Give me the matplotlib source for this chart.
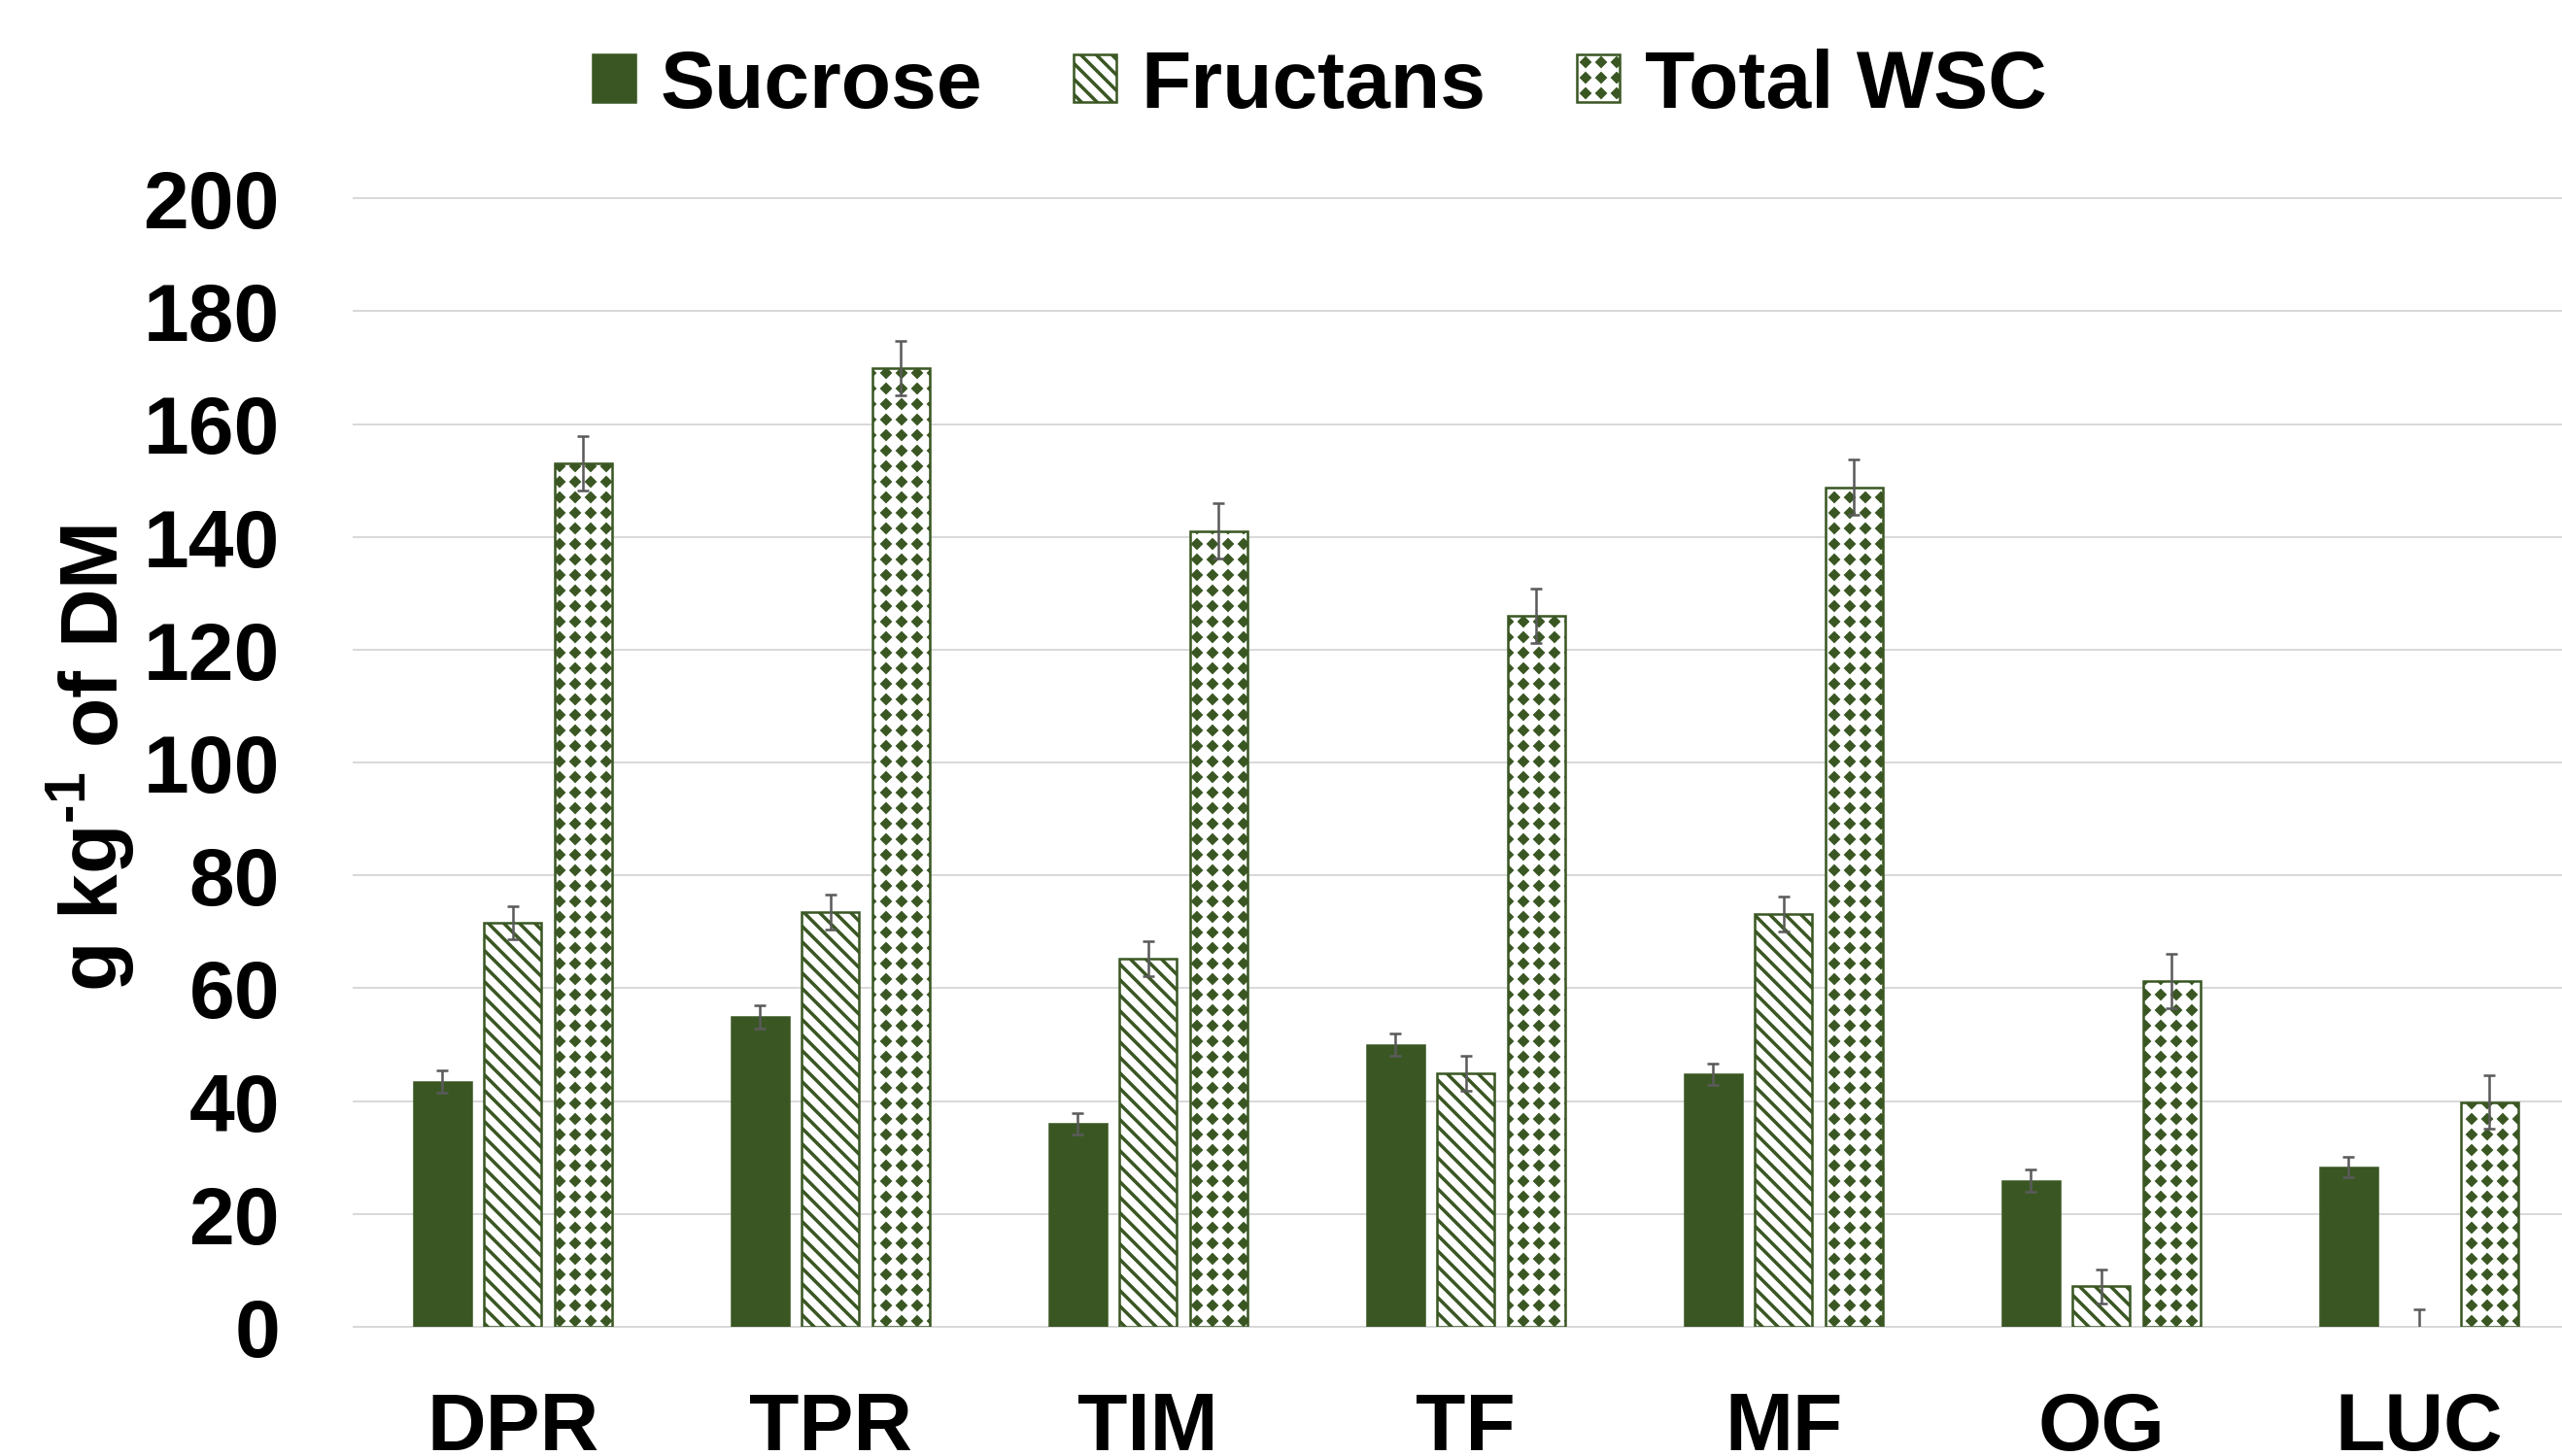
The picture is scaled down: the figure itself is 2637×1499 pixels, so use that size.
import numpy as np
import matplotlib
matplotlib.use('Agg')
import matplotlib.pyplot as plt
from matplotlib import hatch as mhatch
from matplotlib.path import Path

# ---------------- data ----------------
categories = ['DPR', 'TPR', 'TIM', 'TF', 'MF', 'OG', 'LUC']
series_names = ['Sucrose', 'Fructans', 'Total WSC']
sucrose = [43.4, 54.9, 36.0, 50.0, 44.8, 25.9, 28.3]
sucrose_err = [2.0, 2.0, 1.9, 2.0, 1.9, 2.0, 1.8]
fructans = [71.6, 73.5, 65.2, 44.9, 73.2, 7.2, 0.0]
fructans_err = [3.0, 3.1, 3.1, 3.1, 3.1, 3.0, 3.1]
total_wsc = [153.0, 169.9, 141.0, 126.0, 148.8, 61.3, 39.8]
total_err = [4.8, 4.8, 4.9, 4.8, 4.9, 4.8, 4.7]
yticks = [0, 20, 40, 60, 80, 100, 120, 140, 160, 180, 200]
ylabel = r'g kg$^{\text{-1}}$ of DM'


# ------------- custom pattern fills (Excel-like) -------------
class DiamondHatch(mhatch.HatchPatternBase):
    """Solid diamonds on a square grid, triggered by '*'."""
    def __init__(self, hatch, density):
        self.n = int(hatch.count('*') * density)
        self.r = 0.37
        self.num_vertices = (self.n + 1) ** 2 * 5 if self.n else 0

    def set_vertices_and_codes(self, vertices, codes):
        n = self.n
        h = self.r / n
        base = np.array([[0, h], [-h, 0], [0, -h], [h, 0], [0, h]])
        cds = [Path.MOVETO, Path.LINETO, Path.LINETO, Path.LINETO, Path.CLOSEPOLY]
        k = 0
        for i in range(n + 1):
            for j in range(n + 1):
                vertices[k:k + 5] = base + [i / n, j / n]
                codes[k:k + 5] = cds
                k += 5


class WideDownDiagHatch(mhatch.HatchPatternBase):
    """Thick downward diagonal stripes, triggered by '\\'."""
    def __init__(self, hatch, density):
        self.n = int(hatch.count('\\') * density)
        self.d = 0.021
        self.num_vertices = (2 * self.n + 3) * 5 if self.n else 0

    def set_vertices_and_codes(self, vertices, codes):
        n = self.n
        d = self.d
        cds = [Path.MOVETO, Path.LINETO, Path.LINETO, Path.LINETO, Path.CLOSEPOLY]
        k = 0
        for m in range(-1, 2 * n + 2):
            c = m / n
            band = np.array([[-1, c - d + 1], [2, c - d - 2],
                             [2, c + d - 2], [-1, c + d + 1], [-1, c - d + 1]])
            vertices[k:k + 5] = band
            codes[k:k + 5] = cds
            k += 5


mhatch._hatch_types = [t for t in mhatch._hatch_types
                       if t not in (mhatch.Stars, mhatch.SouthEastHatch)] + \
                      [DiamondHatch, WideDownDiagHatch]

# ---------------- style ----------------
plt.rcParams['font.family'] = ['Liberation Sans', 'DejaVu Sans']
plt.rcParams['font.weight'] = 'bold'
plt.rcParams['mathtext.fontset'] = 'custom'
plt.rcParams['mathtext.rm'] = 'Liberation Sans:bold'
plt.rcParams['mathtext.bf'] = 'Liberation Sans:bold'
plt.rcParams['hatch.linewidth'] = 0.5

DPI = 96
W, H = 2637, 1499
fig = plt.figure(figsize=((W + 0.4) / DPI, (H + 0.4) / DPI), dpi=DPI)

green = '#3A5723'
err_color = '#5A5A5A'
FS = 63

ax_left = 364 / W
ax_w = 2289 / W
ax_bottom = 1 - 1366 / H
ax_h = (1366 - 204.5) / H
ax = fig.add_axes([ax_left, ax_bottom, ax_w, ax_h])

x = np.arange(len(categories))
offset = 0.2217
width = 0.18


def lws(vals):
    return [1.9 if v > 0 else 0 for v in vals]


ax.bar(x - offset, sucrose, width, color=green, edgecolor=green,
       linewidth=lws(sucrose), label=series_names[0], zorder=2)
ax.bar(x, fructans, width, facecolor='white', edgecolor=green, hatch='\\',
       linewidth=lws(fructans), label=series_names[1], zorder=2)
ax.bar(x + offset, total_wsc, width, facecolor='white', edgecolor=green, hatch='*',
       linewidth=lws(total_wsc), label=series_names[2], zorder=2)

for xs, vals, errs in [(x - offset, sucrose, sucrose_err),
                       (x, fructans, fructans_err),
                       (x + offset, total_wsc, total_err)]:
    ax.errorbar(xs, vals, yerr=errs, fmt='none', ecolor=err_color,
                elinewidth=1.9, capsize=4.3, capthick=1.9, zorder=3)

ax.set_xlim(-0.5, 6.5)
ax.set_ylim(0, 200)
ax.set_yticks(yticks)
ax.set_xticks(x)
ax.set_xticklabels(categories)
ax.yaxis.grid(True, color='#D9D9D9', linewidth=1.5)
ax.set_axisbelow(True)
for t in ax.yaxis.get_major_ticks():
    t.gridline.set_clip_on(False)
for s in ax.spines.values():
    s.set_visible(False)
ax.tick_params(axis='y', length=0, pad=57, labelsize=FS)
ax.tick_params(axis='x', length=0, pad=49.5, labelsize=FS)

fig.text(122 / W, 1 - 780 / H, ylabel, rotation=90, rotation_mode='anchor',
         ha='center', va='baseline', fontsize=FS)

fig.legend(loc='center left', bbox_to_anchor=(610 / W, 1 - 89 / H), ncol=3,
           frameon=False, fontsize=FS, handlelength=0.524, handleheight=0.524,
           handletextpad=0.30, columnspacing=1.12, borderpad=0, borderaxespad=0)

fig.savefig('out.png', dpi=DPI)
